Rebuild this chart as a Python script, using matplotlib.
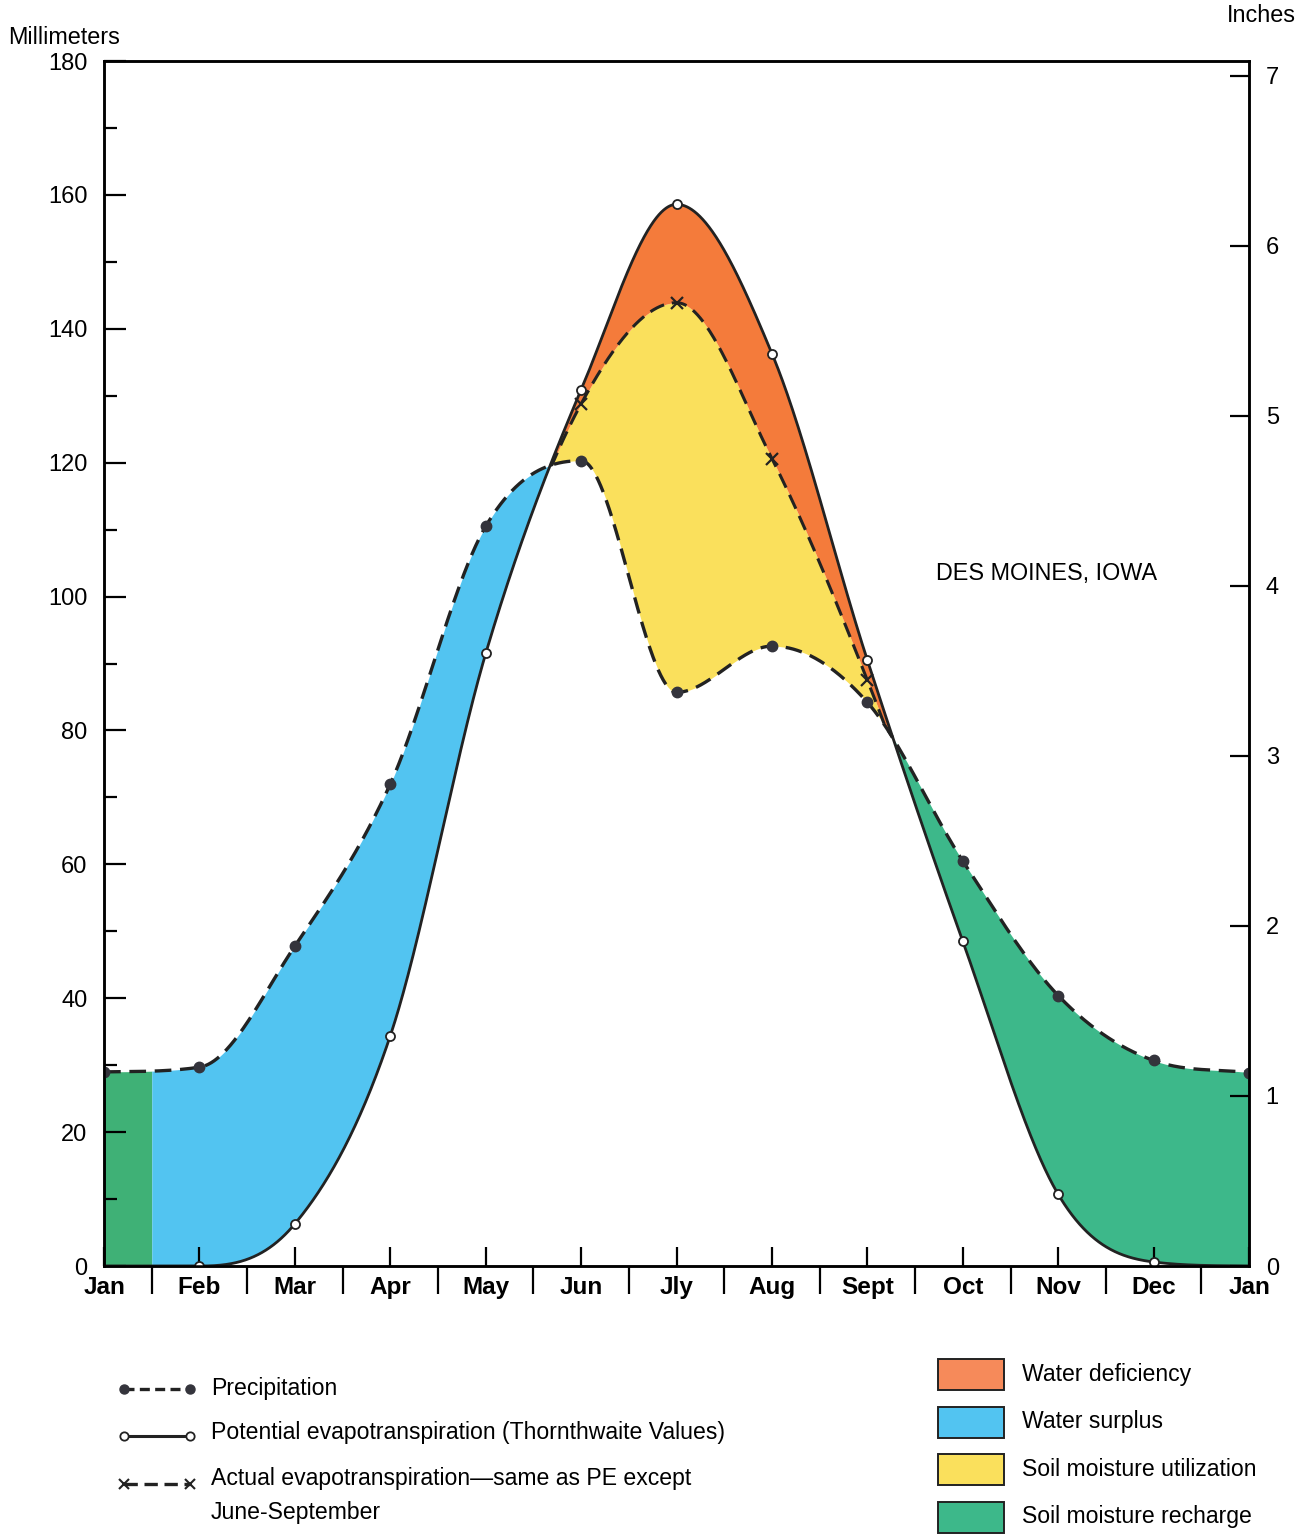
import numpy as np
import matplotlib
matplotlib.use('Agg')
import matplotlib.pyplot as plt
from matplotlib.patches import Rectangle

plt.rcParams['font.family'] = ['Liberation Sans', 'DejaVu Sans']

# monthly values in millimeters (mid-month readings, Jan to Jan)
months = ['Jan', 'Feb', 'Mar', 'Apr', 'May', 'Jun', 'Jly', 'Aug', 'Sept', 'Oct', 'Nov', 'Dec', 'Jan']
precip = [29.0, 29.7, 47.8, 72.0, 110.5, 120.3, 85.7, 92.6, 84.2, 60.5, 40.4, 30.7, 28.9]
pot_et = [0.0, 0.0, 6.3, 34.4, 91.5, 130.9, 158.6, 136.3, 90.5, 48.5, 10.7, 0.6, 0.0]
act_et_months = [5, 6, 7, 8]          # June-September
act_et_values = [128.8, 143.9, 120.6, 87.5]

c_def = '#F47B3B'
c_sur = '#52C4F1'
c_util = '#FAE05C'
c_rech = '#3DB88A'
c_rech_jan = '#3FB176'
ink = '#222222'


def smooth(x, y, xs):
    # monotone cubic (Fritsch-Carlson) through the points
    x = np.asarray(x, float)
    y = np.asarray(y, float)
    h = np.diff(x)
    d = np.diff(y) / h
    m = np.zeros_like(y)
    m[0] = d[0]
    m[-1] = d[-1]
    for k in range(1, len(y) - 1):
        m[k] = 0.0 if d[k - 1] * d[k] <= 0 else (d[k - 1] + d[k]) / 2
    for k in range(len(d)):
        if d[k] == 0:
            m[k] = m[k + 1] = 0.0
            continue
        a = m[k] / d[k]
        b = m[k + 1] / d[k]
        s = a * a + b * b
        if s > 9:
            tau = 3 / np.sqrt(s)
            m[k] = tau * a * d[k]
            m[k + 1] = tau * b * d[k]
    i = np.clip(np.searchsorted(x, xs) - 1, 0, len(x) - 2)
    t = (xs - x[i]) / h[i]
    h00 = 2 * t**3 - 3 * t**2 + 1
    h10 = t**3 - 2 * t**2 + t
    h01 = -2 * t**3 + 3 * t**2
    h11 = t**3 - t**2
    return h00 * y[i] + h10 * h[i] * m[i] + h01 * y[i + 1] + h11 * h[i] * m[i + 1]


xm = np.arange(len(months))
xs = np.linspace(0, 12, 2401)
p_s = smooth(xm, precip, xs)
pe_s = smooth(xm, pot_et, xs)
ae_pts = np.array(pot_et, float)
ae_pts[act_et_months] = act_et_values
ae_s = smooth(xm, ae_pts, xs)

# crossings of precipitation and PE around the dry season
diff = p_s - pe_s
mid = (xs > 3) & (xs < 10)
dry = mid & (diff < 0)
xc1 = xs[dry][0]
xc2 = xs[dry][-1]
ae_c = np.clip(ae_s, p_s, pe_s)
ae_c = np.where((xs >= xc1) & (xs <= xc2), ae_c, pe_s)

fig = plt.figure(figsize=(13.09, 15.34), dpi=100)
ax = fig.add_axes([0.0795, 0.1747, 0.8747, 0.7855])

# colored areas
ax.fill_between(xs, pe_s, p_s, where=(xs <= 0.5), color=c_rech_jan, lw=0, zorder=1)
ax.fill_between(xs, pe_s, p_s, where=(xs >= 0.5) & (xs <= xc1), color=c_sur, lw=0, zorder=1)
ax.fill_between(xs, p_s, ae_c, where=(xs >= xc1) & (xs <= xc2), color=c_util, lw=0, zorder=1)
ax.fill_between(xs, ae_c, pe_s, where=(xs >= xc1) & (xs <= xc2), color=c_def, lw=0, zorder=1)
ax.fill_between(xs, pe_s, p_s, where=(xs >= xc2), color=c_rech, lw=0, zorder=1)

# curves
ax.plot(xs, pe_s, color=ink, lw=2.0, zorder=3)
ax.plot(xm[1:12], pot_et[1:12], 'o', ms=6.5, mfc='white', mec=ink, mew=1.3, zorder=5)
ae_sel = (xs >= xc1) & (xs <= xc2)
ax.plot(xs[ae_sel], ae_c[ae_sel], color=ink, lw=2.2, dashes=(5, 2.6), zorder=4)
ax.plot(act_et_months, act_et_values, 'x', ms=8, mec=ink, mew=1.6, zorder=5)
ax.plot(xs, p_s, color=ink, lw=2.4, dashes=(5, 2.6), zorder=4)
ax.plot(xm, precip, 'o', ms=7.5, color='#34343c', zorder=5)

ax.text(9.88, 103.5, 'DES MOINES, IOWA', fontsize=16.8, ha='center', va='center')

# left axis (millimeters)
ax.set_xlim(0, 12)
ax.set_ylim(0, 180)
ax.set_yticks(np.arange(0, 181, 20))
ax.set_yticks(np.arange(10, 180, 20), minor=True)
ax.tick_params(axis='y', which='major', direction='in', length=16, width=1.6, pad=12, labelsize=17)
ax.tick_params(axis='y', which='minor', direction='in', length=9, width=1.6)
ax.set_xticks(xm)
ax.set_xticklabels(months)
ax.set_xticks(np.arange(0.5, 12, 1), minor=True)
ax.tick_params(axis='x', which='major', direction='in', length=14, width=1.6, pad=7, labelsize=17.5)
ax.tick_params(axis='x', which='minor', direction='out', length=20, width=1.6)
for lab in ax.get_xticklabels():
    lab.set_fontweight('bold')
for s in ax.spines.values():
    s.set_linewidth(1.8)

# right axis (inches)
ax2 = ax.twinx()
ax2.set_ylim(0, 180 / 25.4)
ax2.set_yticks(range(0, 8))
ax2.tick_params(axis='y', direction='in', length=14, width=1.6, pad=12, labelsize=17)
for s in ax2.spines.values():
    s.set_linewidth(1.8)

fig.text(8 / 1309, 1 - 37 / 1534, 'Millimeters', fontsize=16.8, va='center', ha='left')
fig.text(1296 / 1309, 1 - 16 / 1534, 'Inches', fontsize=16.8, va='center', ha='right')

# legend drawn in figure pixel coordinates
lg = fig.add_axes([0, 0, 1, 1])
lg.set_xlim(0, 1309)
lg.set_ylim(1534, 0)
lg.axis('off')

lx = [124, 190]
lg.plot(lx, [1389, 1389], color=ink, lw=2.4, dashes=(3, 1.6))
lg.plot(lx, [1389, 1389], 'o', ms=6.5, color='#34343c')
lg.plot(lx, [1436, 1436], color=ink, lw=2.2)
lg.plot(lx, [1436, 1436], 'o', ms=6, mfc='white', mec=ink, mew=1.3)
lg.plot(lx, [1484, 1484], color=ink, lw=2.4, dashes=(4, 2))
lg.plot(lx, [1484, 1484], 'x', ms=6.5, mec=ink, mew=1.5)
lg.text(211, 1388, 'Precipitation', fontsize=16.6, va='center')
lg.text(211, 1432, 'Potential evapotranspiration (Thornthwaite Values)', fontsize=16.6, va='center')
lg.text(211, 1479, 'Actual evapotranspiration\u2014same as PE except', fontsize=16.6, va='center')
lg.text(211, 1513, 'June-September', fontsize=16.6, va='center')

patches = [('Water deficiency', '#F68A5A'),
           ('Water surplus', c_sur),
           ('Soil moisture utilization', c_util),
           ('Soil moisture recharge', c_rech)]
for k, (name, col) in enumerate(patches):
    y0 = 1359 + k * 47.5
    lg.add_patch(Rectangle((938, y0), 66, 31, facecolor=col, edgecolor=ink, lw=1.4))
    lg.text(1022, y0 + 15, name, fontsize=16.6, va='center')

plt.savefig('out.png', dpi=100)
